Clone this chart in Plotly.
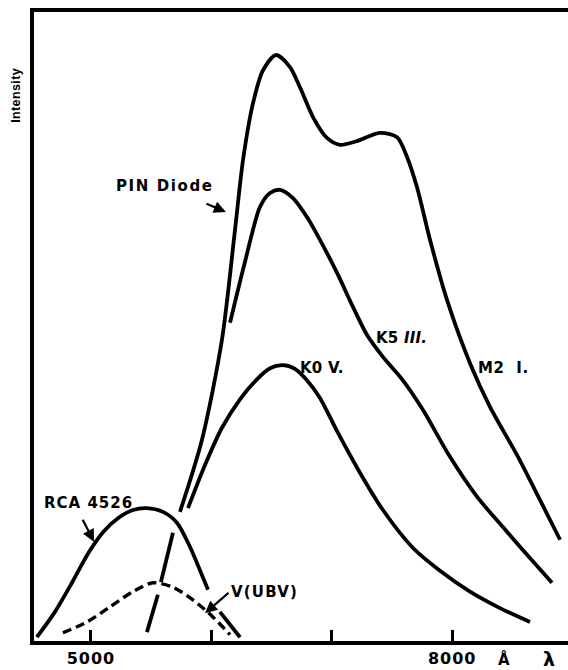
import plotly.graph_objects as go

# Relative intensity versus wavelength (Å)
# Top curve: PIN diode rising edge continuing into the M2 I spectrum
m2_wl = [5465, 5556, None, 5581, 5681, None, 5739, 5922, 6088, 6196, 6263, 6346,
         6429, 6537, 6653, 6736, 6844, 6960, 7068, 7209, 7400, 7542, 7625, 7708,
         7816, 7957, 8148, 8314, 8538, 8729, 8896]
m2_int = [1.7, 7.6, None, 9.6, 17.4, None, 20.7, 32.1, 47.9, 65.2, 76.3, 85.3,
          90.5, 92.9, 91.0, 87.8, 83.1, 79.8, 78.7, 79.3, 80.6, 79.9, 76.8, 72.0,
          63.7, 54.2, 44.2, 37.3, 29.7, 22.6, 16.3]

k5_wl = [6155, 6279, 6404, 6487, 6570, 6678, 6794, 6902, 7043, 7176, 7292, 7425,
         7591, 7758, 7982, 8206, 8422, 8563, 8829]
k5_int = [50.6, 60.2, 68.9, 71.1, 71.6, 70.3, 67.3, 63.7, 58.5, 53.1, 48.7, 45.2,
          41.5, 36.8, 29.4, 23.1, 18.3, 15.2, 9.5]

k0_wl = [5806, 5947, 6088, 6238, 6370, 6487, 6595, 6694, 6794, 6902, 7043, 7234,
         7425, 7675, 7899, 8148, 8397, 8646]
k0_int = [21.3, 28.1, 34.0, 38.5, 41.5, 43.4, 43.9, 43.3, 41.5, 38.7, 33.5, 26.9,
          21.0, 15.0, 11.4, 8.1, 5.5, 3.3]

rca_wl = [4551, 4701, 4842, 4975, 5100, 5224, 5349, 5465, 5598, 5714, 5822, 5905,
          5972, None, 6071, 6238]
rca_int = [0.9, 4.9, 9.5, 14.1, 17.5, 19.7, 21.0, 21.3, 20.7, 19.0, 15.2, 11.5,
           8.4, None, 4.9, 0.9]

vubv_wl = [4767, 4967, 5158, 5349, 5515, 5681, 5847, 6013, 6155]
vubv_int = [1.6, 3.3, 5.7, 8.1, 9.5, 8.8, 6.8, 4.1, 1.3]

tick_vals = [5000, 6000, 7000, 8000]
tick_text = ["5000", "", "", "8000"]

# Curve labels: text, wavelength, intensity
label_text = ["PIN Diode", "RCA 4526", "V(UBV)", "K0 V.", "K5 <i>III.</i>", "M2  I."]
label_wl = [5615, 4979, 6445, 6919, 7575, 8430]
label_int = [72.2, 22.1, 8.1, 43.4, 48.2, 43.4]
label_spacing = [1.6, 1.0, 1.2, 0.2, 0.2, 0.6]

# Pointer arrows: tail (wl, int) -> tip (wl, int)
arrow_tail_wl = [5947, 4925, 6155]
arrow_tail_int = [69.5, 19.7, 8.1]
arrow_tip_wl = [6121, 5025, 5947]
arrow_tip_int = [68.1, 16.0, 4.7]

BLACK = "#000000"
LW = 3.8

fig = go.Figure()

def curve(wl, inten, name, dash="solid"):
    fig.add_trace(go.Scatter(
        x=wl, y=inten, mode="lines", name=name,
        line=dict(color=BLACK, width=LW if dash == "solid" else 3.4,
                  shape="spline", smoothing=0.8, dash=dash),
        connectgaps=False, hoverinfo="skip", showlegend=False,
    ))

curve(m2_wl, m2_int, "M2 I")
curve(k5_wl, k5_int, "K5 III")
curve(k0_wl, k0_int, "K0 V")
curve(rca_wl, rca_int, "RCA 4526")
curve(vubv_wl, vubv_int, "V(UBV)", dash="9px,5px")

LABEL_FONT = dict(family="DejaVu Sans", size=15, color=BLACK)

for txt, wl, yv, ls in zip(label_text, label_wl, label_int, label_spacing):
    fig.add_annotation(
        x=wl, y=yv, xref="x", yref="y",
        text=f'<b><span style="letter-spacing:{ls}px">{txt}</span></b>',
        showarrow=False, xanchor="center", yanchor="middle", font=LABEL_FONT,
    )

for tw, ti, hw, hi in zip(arrow_tail_wl, arrow_tail_int, arrow_tip_wl, arrow_tip_int):
    fig.add_annotation(
        x=hw, y=hi, ax=tw, ay=ti, xref="x", yref="y", axref="x", ayref="y",
        text="", showarrow=True, arrowhead=2, arrowsize=1.1, arrowwidth=2.2,
        arrowcolor=BLACK, standoff=0, startstandoff=0,
    )

# Axis title and unit markers
fig.add_annotation(
    x=-0.034, y=0.868, xref="paper", yref="paper",
    text='<b><span style="letter-spacing:0.4px">Intensity</span></b>',
    textangle=-90, showarrow=False,
    xanchor="center", yanchor="middle",
    font=dict(family="Liberation Sans", size=12.5, color=BLACK),
)
fig.add_annotation(
    x=8430, y=0, xref="x", yref="paper", yshift=-18,
    text="<b>Å</b>", showarrow=False, xanchor="center", yanchor="middle",
    font=dict(family="DejaVu Sans", size=15, color=BLACK),
)
fig.add_annotation(
    x=8804, y=0, xref="x", yref="paper", yshift=-18,
    text="<b>λ</b>", showarrow=False, xanchor="center", yanchor="middle",
    font=dict(family="DejaVu Sans", size=19, color=BLACK),
)

fig.update_layout(
    width=568, height=670,
    margin=dict(l=34, r=0, t=12, b=29),
    paper_bgcolor="white", plot_bgcolor="white",
    showlegend=False,
    font=dict(family="DejaVu Sans", color=BLACK),
    xaxis=dict(
        range=[4527, 8962], showgrid=False, zeroline=False,
        showline=True, linecolor=BLACK, linewidth=4, mirror=True,
        ticks="inside", ticklen=11, tickwidth=3, tickcolor=BLACK,
        tickvals=tick_vals,
        ticktext=[f'<b><span style="letter-spacing:1px">{t}</span></b>' if t else "" for t in tick_text],
        tickfont=dict(family="DejaVu Sans", size=16, color=BLACK),
        fixedrange=True,
    ),
    yaxis=dict(
        range=[0.3, 99.7], showgrid=False, zeroline=False,
        showline=True, linecolor=BLACK, linewidth=4, mirror=False,
        showticklabels=False, ticks="", fixedrange=True,
    ),
)

fig.write_html("out.html")
